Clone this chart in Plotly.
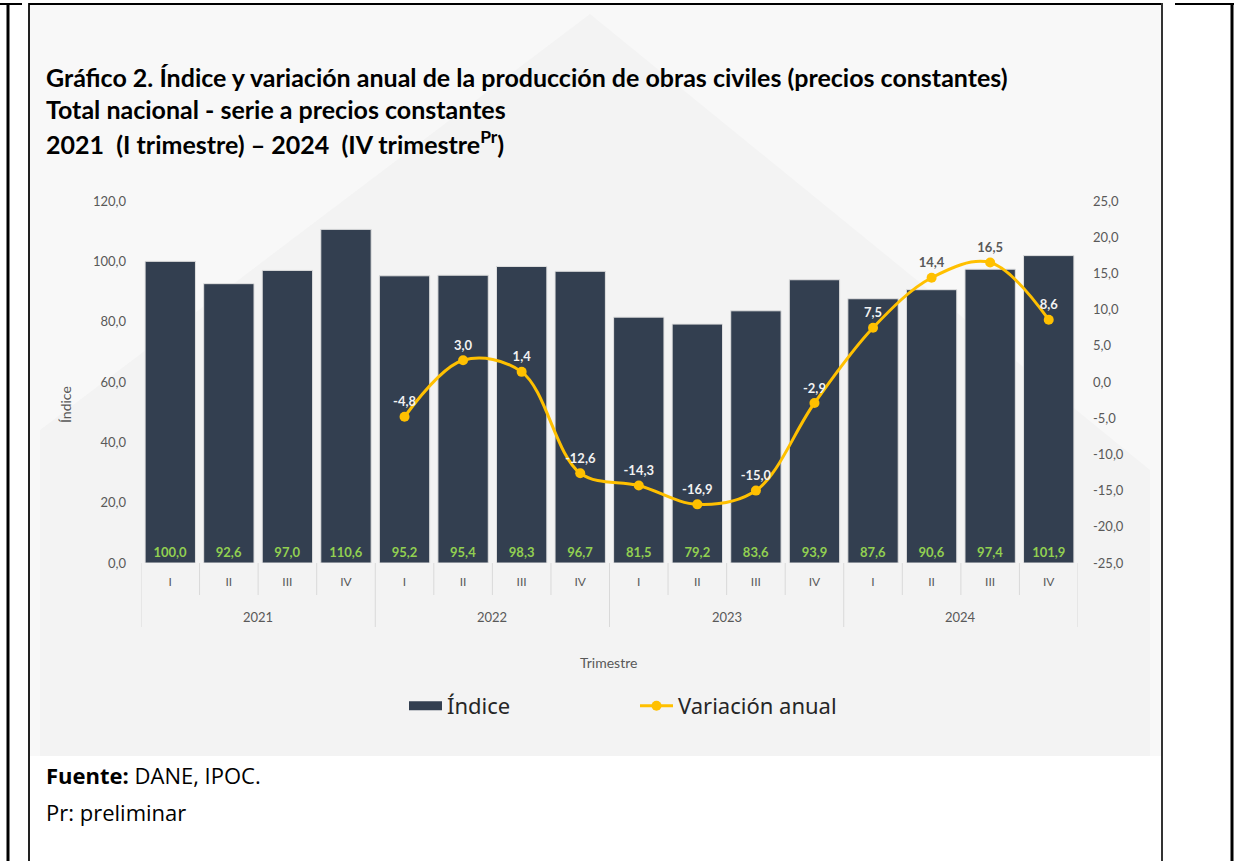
import plotly.graph_objects as go

W, H = 1234, 861

years = ["2021"] * 4 + ["2022"] * 4 + ["2023"] * 4 + ["2024"] * 4
quarters = ["I", "II", "III", "IV"] * 4
indice = [100.0, 92.6, 97.0, 110.6, 95.2, 95.4, 98.3, 96.7,
          81.5, 79.2, 83.6, 93.9, 87.6, 90.6, 97.4, 101.9]
variacion = [None, None, None, None, -4.8, 3.0, 1.4, -12.6,
             -14.3, -16.9, -15.0, -2.9, 7.5, 14.4, 16.5, 8.6]
left_ticks = [0, 20, 40, 60, 80, 100, 120]
right_ticks = [-25, -20, -15, -10, -5, 0, 5, 10, 15, 20, 25]

BAR = "#333F50"
LINE = "#FFC000"
GREEN = "#92D050"
GREY = "#595959"
DIV = "#D9D9D9"
FONT = "Lato"

# plot area in pixels
X0, X1, Y_TOP, Y_BOT = 141, 1078, 201, 563


def fmt(v):
    return f"{v:.1f}".replace(".", ",")


def px(x):
    return x / W


def py(y):
    return 1 - y / H


cats = [f"{y} {q}" for y, q in zip(years, quarters)]
n = len(cats)

# label colours: light on dark bars, grey where the label sits above the bar top
var_text = [fmt(v) if v is not None else "" for v in variacion]
var_colors = []
for v, b in zip(variacion, indice):
    if v is None:
        var_colors.append("#F2F2F2")
    else:
        bar_top_y2 = b / 120 * 50 - 25
        var_colors.append(GREY if v + 3.2 > bar_top_y2 else "#F2F2F2")

fig = go.Figure()
fig.add_trace(go.Bar(
    x=cats, y=indice, name="Índice", showlegend=False,
    marker=dict(color=BAR, line=dict(color="#E0E0E0", width=1)),
    text=[fmt(v) for v in indice], textposition="inside",
    insidetextanchor="start", textangle=0,
    textfont=dict(color=GREEN, size=13, family=FONT, weight="bold"),
    constraintext="none",
))
# legend proxy for the bars (wide swatch as in the original)
fig.add_trace(go.Scatter(
    x=[None], y=[None], name="Índice", mode="lines",
    line=dict(color=BAR, width=9), showlegend=True,
))
fig.add_trace(go.Scatter(
    x=cats, y=variacion, name="Variación anual", yaxis="y2",
    mode="lines+markers+text",
    line=dict(color=LINE, width=3, shape="spline", smoothing=1.0),
    marker=dict(color=LINE, size=10),
    text=var_text, textposition="top center",
    textfont=dict(color=var_colors, size=13, family=FONT, weight="bold"),
    connectgaps=False, cliponaxis=False,
))

shapes = [
    # watermark-like grey background of the chart image
    dict(type="rect", xref="paper", yref="paper", x0=px(30), x1=px(1162),
         y0=py(756), y1=py(5), fillcolor="#F8F8F8", line=dict(width=0), layer="below"),
    dict(type="path", xref="paper", yref="paper",
         path=f"M {px(40)},{py(430)} L {px(590)},{py(14)} L {px(1150)},{py(470)} "
              f"L {px(1150)},{py(756)} L {px(40)},{py(756)} Z",
         fillcolor="#F3F3F3", line=dict(width=0), layer="below"),
    # table borders
    dict(type="line", xref="paper", yref="paper", x0=px(8), x1=px(8), y0=0, y1=py(3),
         line=dict(color="black", width=3)),
    dict(type="line", xref="paper", yref="paper", x0=px(29), x1=px(29), y0=0, y1=py(3),
         line=dict(color="#222222", width=2)),
    dict(type="line", xref="paper", yref="paper", x0=0, x1=px(22), y0=py(4), y1=py(4),
         line=dict(color="black", width=2)),
    dict(type="line", xref="paper", yref="paper", x0=px(29), x1=px(1163), y0=py(4), y1=py(4),
         line=dict(color="black", width=2)),
    dict(type="line", xref="paper", yref="paper", x0=px(1162), x1=px(1162), y0=0, y1=py(3),
         line=dict(color="#333333", width=2)),
    dict(type="line", xref="paper", yref="paper", x0=px(1175), x1=px(1234), y0=py(4), y1=py(4),
         line=dict(color="black", width=2)),
    dict(type="line", xref="paper", yref="paper", x0=px(1232), x1=px(1232), y0=0, y1=py(3),
         line=dict(color="black", width=3)),
]

# category boundary lines under the axis (quarters short, years long)
for i in range(n + 1):
    is_year = i == 0 or i == n or years[i] != years[i - 1]
    shapes.append(dict(type="line", xref="x", yref="paper", x0=i - 0.5, x1=i - 0.5,
                       y0=py(563), y1=py(627 if is_year else 595),
                       line=dict(color=DIV, width=1)))

annotations = []
# year labels centred on their group of quarters
for yr in dict.fromkeys(years):
    idx = [i for i, y in enumerate(years) if y == yr]
    annotations.append(dict(text=yr, x=(idx[0] + idx[-1]) / 2, xref="x", y=py(617),
                            yref="paper", showarrow=False, yanchor="middle",
                            font=dict(family=FONT, size=13, color=GREY)))

TFONT = dict(family=FONT, size=25, color="black", weight="bold")
annotations += [
    dict(text="Gráfico 2. Índice y variación anual de la producción de obras civiles (precios constantes)",
         x=px(44), y=py(77), xref="paper", yref="paper", xanchor="left", yanchor="middle",
         showarrow=False, font=TFONT),
    dict(text="Total nacional - serie a precios constantes",
         x=px(44), y=py(109), xref="paper", yref="paper", xanchor="left", yanchor="middle",
         showarrow=False, font=TFONT),
    dict(text="2021  (I trimestre) – 2024  (IV trimestre<sup>Pr</sup>)",
         x=px(44), y=py(143), xref="paper", yref="paper", xanchor="left", yanchor="middle",
         showarrow=False, font=TFONT),
    dict(text="<b>Fuente:</b> DANE, IPOC.",
         x=px(44), y=py(775), xref="paper", yref="paper", xanchor="left", yanchor="middle",
         showarrow=False, font=dict(family="Open Sans", size=22, color="black")),
    dict(text="Pr: preliminar",
         x=px(44), y=py(812), xref="paper", yref="paper", xanchor="left", yanchor="middle",
         showarrow=False, font=dict(family="Open Sans", size=22, color="black")),
    dict(text="Trimestre", x=px(608), y=py(662), xref="paper", yref="paper",
         showarrow=False, yanchor="middle",
         font=dict(family=FONT, size=14, color=GREY)),
    dict(text="Índice", x=px(65), y=py(405), xref="paper", yref="paper", textangle=-90,
         showarrow=False, xanchor="center", yanchor="middle",
         font=dict(family=FONT, size=14, color=GREY)),
]

fig.update_layout(
    width=W, height=H, autosize=False,
    margin=dict(l=0, r=0, t=0, b=0, pad=0, autoexpand=False),
    paper_bgcolor="white", plot_bgcolor="rgba(0,0,0,0)",
    separators=",.",
    font=dict(family=FONT, color=GREY, size=13),
    bargap=0.14,
    showlegend=True,
    legend=dict(orientation="h", x=px(404), xanchor="left", y=py(706), yanchor="middle",
                font=dict(family="Noto Sans", size=22, color="#262626"),
                bgcolor="rgba(0,0,0,0)", entrywidth=183, entrywidthmode="pixels",
                itemwidth=33, traceorder="normal"),
    xaxis=dict(domain=[px(X0), px(X1)], type="category", automargin=False,
               range=[-0.5, n - 0.5], autorange=False,
               tickvals=cats, ticktext=quarters, ticks="", showline=False,
               showgrid=False, zeroline=False, ticklabelstandoff=10,
               tickfont=dict(family=FONT, size=12, color=GREY)),
    yaxis=dict(domain=[py(Y_BOT), py(Y_TOP)], range=[0, 120], tickvals=left_ticks,
               ticktext=[fmt(v) for v in left_ticks], showgrid=False, zeroline=False,
               showline=False, ticklabelstandoff=14, automargin=False,
               tickfont=dict(family=FONT, size=13, color=GREY)),
    yaxis2=dict(overlaying="y", side="right", range=[-25, 25], tickvals=right_ticks,
                ticktext=[fmt(v) for v in right_ticks], showgrid=False, zeroline=False,
                showline=False, ticklabelstandoff=14, automargin=False,
                tickfont=dict(family=FONT, size=13, color=GREY)),
    shapes=shapes,
    annotations=annotations,
)

fig.write_html("out.html", config={"displayModeBar": False},
               post_script="document.body.style.margin='0';document.body.style.overflow='hidden';")
